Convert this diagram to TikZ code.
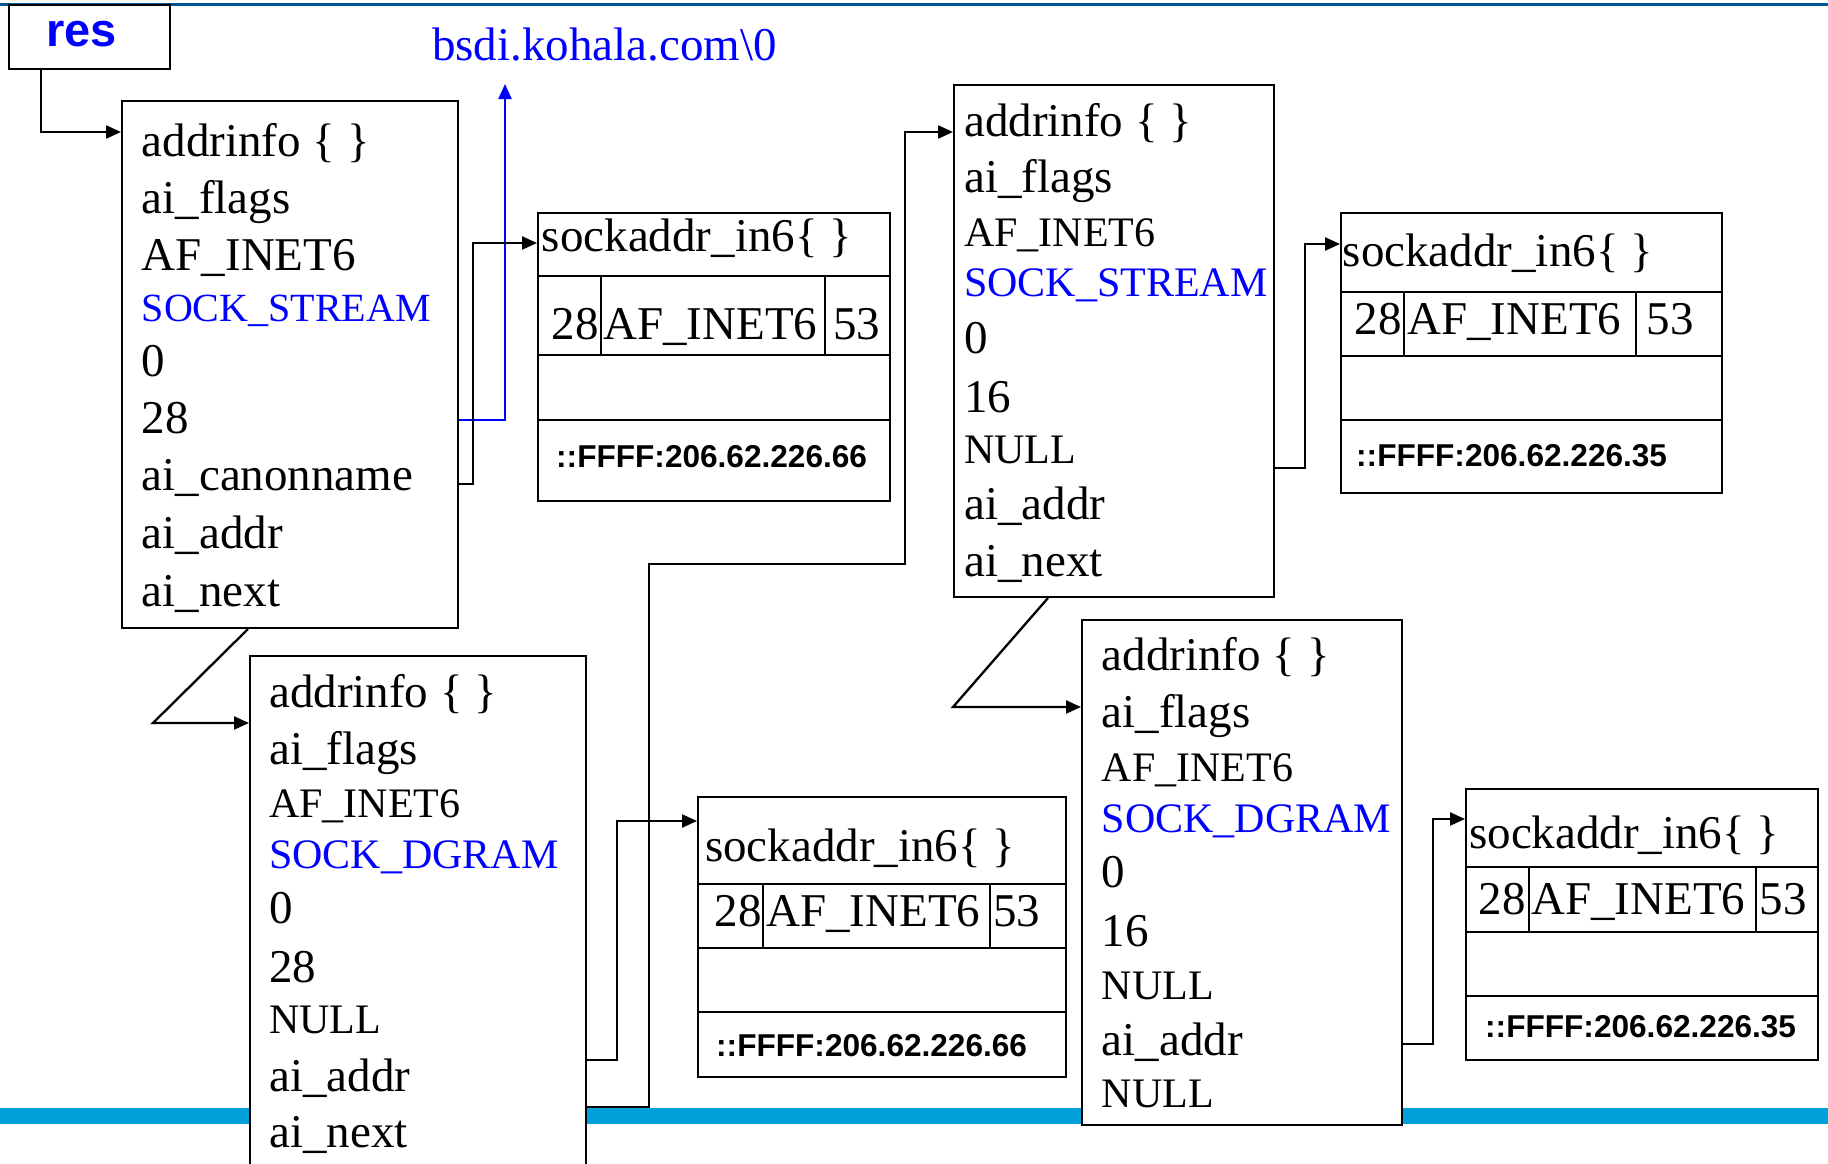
\documentclass[tikz,border=0pt]{standalone}
\usepackage{fontspec}
\setmainfont{Liberation Serif}
\newfontfamily\arialf{Liberation Sans}
\usetikzlibrary{arrows.meta}
\definecolor{topblue}{RGB}{0,85,150}
\definecolor{barcyan}{RGB}{0,160,218}
\definecolor{pblue}{RGB}{0,0,255}
\begin{document}
\begin{tikzpicture}[x=1pt,y=-1pt,
  box/.style={draw, fill=white, line width=2pt, inner sep=0pt, anchor=north west},
  lbl/.style={anchor=base west, inner sep=0pt},
  lblr/.style={anchor=base east, inner sep=0pt},
  txtA/.style={font=\fontsize{47}{47}\selectfont},
  txtB/.style={font=\fontsize{42}{42}\selectfont},
  txtS/.style={font=\fontsize{40}{40}\selectfont},
  ipf/.style={font=\arialf\bfseries\fontsize{31.6}{31.6}\selectfont},
  hl/.style={text=pblue},
  conn/.style={line width=2.3pt, -{Triangle[length=15pt,width=13pt]}},
  bconn/.style={conn, draw=pblue, -{Triangle[length=15pt,width=13pt]}},
  divl/.style={line width=2.5pt}
]
\useasboundingbox (0,0) rectangle (1828,1164);
\clip (0,0) rectangle (1828,1164);
\fill[white] (0,0) rectangle (1828,1164);
% decorations
\draw[topblue, line width=3pt] (0,4.5) -- (1828,4.5);
\fill[barcyan] (0,1108) rectangle (1828,1124);

% res
\node[box, minimum width=161pt, minimum height=64pt] (res) at (8,4) {};
\node[lbl, font=\arialf\bfseries\fontsize{47}{47}\selectfont, text=pblue] (restxt) at (46,46.7) {res};
\node[anchor=base, inner sep=0pt, txtA, hl] (canon) at (604.5,60) {bsdi.kohala.com\textbackslash 0};
\coordinate (canonpt) at (505,84);

% boxes
\node[box, minimum width=336pt, minimum height=527pt] (box1) at (121,100) {};
\node[box, minimum width=352pt, minimum height=288pt] (s1) at (537,212) {};
\node[box, minimum width=320pt, minimum height=512pt] (box3) at (953,84) {};
\node[box, minimum width=381pt, minimum height=280pt] (s2) at (1340,212) {};
\node[box, minimum width=336pt, minimum height=540pt] (box4) at (249,655) {};
\node[box, minimum width=368pt, minimum height=280pt] (s3) at (697,796) {};
\node[box, minimum width=320pt, minimum height=505pt] (box5) at (1081,619) {};
\node[box, minimum width=352pt, minimum height=271pt] (s4) at (1465,788) {};

% sockaddr dividers
\draw[divl] (s1.west |- 0,276) -- (s1.east |- 0,276);
\draw[divl] (s1.west |- 0,355) -- (s1.east |- 0,355);
\draw[divl] (s1.west |- 0,420) -- (s1.east |- 0,420);
\draw[divl] (601,276) -- (601,355);
\draw[divl] (825,276) -- (825,355);

\draw[divl] (s2.west |- 0,292) -- (s2.east |- 0,292);
\draw[divl] (s2.west |- 0,356) -- (s2.east |- 0,356);
\draw[divl] (s2.west |- 0,420) -- (s2.east |- 0,420);
\draw[divl] (1404,292) -- (1404,356);
\draw[divl] (1636,292) -- (1636,356);

\draw[divl] (s3.west |- 0,884) -- (s3.east |- 0,884);
\draw[divl] (s3.west |- 0,948) -- (s3.east |- 0,948);
\draw[divl] (s3.west |- 0,1012) -- (s3.east |- 0,1012);
\draw[divl] (763,884) -- (763,948);
\draw[divl] (990,884) -- (990,948);

\draw[divl] (s4.west |- 0,867) -- (s4.east |- 0,867);
\draw[divl] (s4.west |- 0,932) -- (s4.east |- 0,932);
\draw[divl] (s4.west |- 0,996) -- (s4.east |- 0,996);
\draw[divl] (1529,867) -- (1529,932);
\draw[divl] (1756,867) -- (1756,932);

% box1 texts
\node[lbl,txtA] (b1a) at (141.6,156) {addrinfo \{ \}};
\node[lbl,txtA] (b1b) at (141.6,213) {ai\_flags};
\node[lbl,txtA] (b1c) at (141.6,270) {AF\_INET6};
\node[lbl,txtS,hl] (b1d) at (141.6,321) {SOCK\_STREAM};
\node[lbl,txtA] (b1e) at (141.6,376) {0};
\node[lbl,txtA] (b1f) at (141.6,433) {28};
\node[lbl,txtA] (b1g) at (141.6,490) {ai\_canonname};
\node[lbl,txtA] (b1h) at (141.6,548) {ai\_addr};
\node[lbl,txtA] (b1i) at (141.6,606) {ai\_next};

% box3 texts
\node[lbl,txtA] (b3a) at (964,136) {addrinfo \{ \}};
\node[lbl,txtA] (b3b) at (964,192) {ai\_flags};
\node[lbl,txtB] (b3c) at (964,246) {AF\_INET6};
\node[lbl,txtB,hl] (b3d) at (964,296) {SOCK\_STREAM};
\node[lbl,txtA] (b3e) at (964,353) {0};
\node[lbl,txtA] (b3f) at (964,412) {16};
\node[lbl,txtB] (b3g) at (964,463) {NULL};
\node[lbl,txtA] (b3h) at (964,519) {ai\_addr};
\node[lbl,txtA] (b3i) at (964,576) {ai\_next};

% box4 texts
\node[lbl,txtA] (b4a) at (269,707) {addrinfo \{ \}};
\node[lbl,txtA] (b4b) at (269,764) {ai\_flags};
\node[lbl,txtB] (b4c) at (269,817.6) {AF\_INET6};
\node[lbl,txtB,hl] (b4d) at (269,868) {SOCK\_DGRAM};
\node[lbl,txtA] (b4e) at (269,923) {0};
\node[lbl,txtA] (b4f) at (269,982) {28};
\node[lbl,txtB] (b4g) at (269,1033) {NULL};
\node[lbl,txtA] (b4h) at (269,1091) {ai\_addr};
\node[lbl,txtA] (b4i) at (269,1147) {ai\_next};

% box5 texts
\node[lbl,txtA] (b5a) at (1101.6,670) {addrinfo \{ \}};
\node[lbl,txtA] (b5b) at (1101.6,727.7) {ai\_flags};
\node[lbl,txtB] (b5c) at (1101.6,781.6) {AF\_INET6};
\node[lbl,txtB,hl] (b5d) at (1101.6,832) {SOCK\_DGRAM};
\node[lbl,txtA] (b5e) at (1101.6,887.8) {0};
\node[lbl,txtA] (b5f) at (1101.6,946) {16};
\node[lbl,txtB] (b5g) at (1101.6,999) {NULL};
\node[lbl,txtA] (b5h) at (1101.6,1055) {ai\_addr};
\node[lbl,txtB] (b5i) at (1101.6,1107) {NULL};

% sockaddr texts
\node[lbl,txtA] (s1t) at (541.7,251.7) {sockaddr\_in6\{ \}};
\node[lblr,txtA] (s1a) at (599,339) {28};
\node[lbl,txtA] (s1b) at (603,339) {AF\_INET6};
\node[lbl,txtA] (s1c) at (833,339) {53};
\node[lbl,ipf] (s1d) at (556,467) {::FFFF:206.62.226.66};

\node[lbl,txtA] (s2t) at (1342.6,266.4) {sockaddr\_in6\{ \}};
\node[lblr,txtA] (s2a) at (1402,334) {28};
\node[lbl,txtA] (s2b) at (1407,334) {AF\_INET6};
\node[lbl,txtA] (s2c) at (1646.7,334) {53};
\node[lbl,ipf] (s2d) at (1356,466) {::FFFF:206.62.226.35};

\node[lbl,txtA] (s3t) at (705,861.7) {sockaddr\_in6\{ \}};
\node[lblr,txtA] (s3a) at (761.7,926.7) {28};
\node[lbl,txtA] (s3b) at (766,926.7) {AF\_INET6};
\node[lbl,txtA] (s3c) at (993,926.7) {53};
\node[lbl,ipf] (s3d) at (716,1056.7) {::FFFF:206.62.226.66};

\node[lbl,txtA] (s4t) at (1469,848) {sockaddr\_in6\{ \}};
\node[lblr,txtA] (s4a) at (1526,914.7) {28};
\node[lbl,txtA] (s4b) at (1531,914.7) {AF\_INET6};
\node[lbl,txtA] (s4c) at (1759.7,914.7) {53};
\node[lbl,ipf] (s4d) at (1485,1037) {::FFFF:206.62.226.35};

% connectors
\draw[conn] (res.south -| 41,0) |- (box1.west |- 0,132);
\draw[bconn] (box1.east |- 0,420) -| (canonpt);
\draw[conn] (box1.east |- 0,484) -| (473,243) -- (s1.west |- 0,243);
\draw[conn] (box1.south -| 248,0) -- (153,723) -- (box4.west |- 0,723);
\draw[conn] (box4.east |- 0,1107) -| (649,564) -| (905,132) -- (box3.west |- 0,132);
\draw[conn] (box4.east |- 0,1060) -| (617,821) -- (s3.west |- 0,821);
\draw[conn] (box3.east |- 0,468) -| (1305,244) -- (s2.west |- 0,244);
\draw[conn] (box3.south -| 1048,0) -- (953,707) -- (box5.west |- 0,707);
\draw[conn] (box5.east |- 0,1044) -| (1433,819) -- (s4.west |- 0,819);
\end{tikzpicture}
\end{document}
